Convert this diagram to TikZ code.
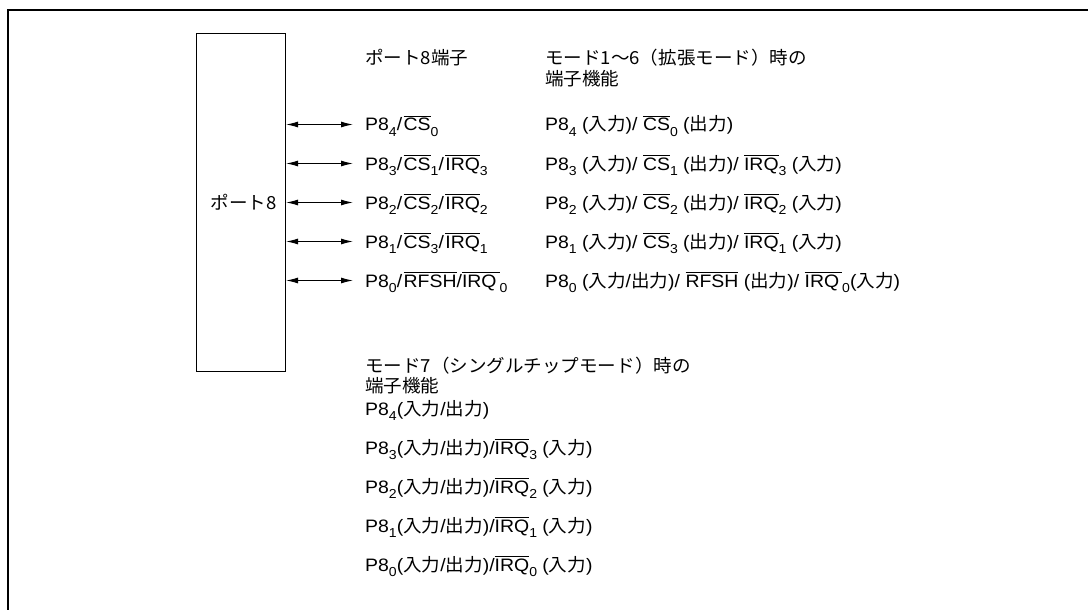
\documentclass[tikz,border=0pt]{standalone}
\usepackage{fontspec}
\setmainfont[FakeStretch=1.08]{Liberation Sans}
\newfontfamily\jpfont[FakeStretch=1.03]{Noto Sans CJK JP}
\usetikzlibrary{arrows.meta}
\newcommand\jt[1]{{\jpfont #1}}
\newcommand\sbs[1]{\raisebox{-0.32em}{\fontsize{13}{13}\selectfont #1}}
\newcommand\olb[1]{\leavevmode\vbox{\hrule height 0.9pt\kern 1.6pt\hbox{#1}}}
\newcommand\slh{/\kern1.5pt}
\tikzset{
  lbl/.style={anchor=base west, inner sep=0pt, font=\fontsize{18}{22}\selectfont},
  lble/.style={anchor=base east, inner sep=0pt, font=\fontsize{18}{22}\selectfont},
  bidir/.style={{Latex[length=12pt,width=6pt]}-{Latex[length=12pt,width=6pt]}, line width=1pt},
  frame/.style={line width=2.4pt},
  portbox/.style={draw, line width=1.1pt, inner sep=0pt, minimum width=89pt, minimum height=338pt, anchor=north west}
}
\begin{document}
\begin{tikzpicture}[x=1pt,y=1pt]
\useasboundingbox (0,0) rectangle (1088,-610);
\draw[frame] (8,-612) -- (8,-10) -- (1090,-10);
\node[portbox] (port) at (196,-33) {};
\node[lble] (portlbl) at (277,-209) {\jt{ポート8}};
% headers
\node[lbl] (h1) at (365,-65) {\jt{ポート8端子}};
\node[lbl] (h2a) at (545,-65) {\jt{モード1～6（拡張モード）時の}};
\node[lbl] (h2b) at (545,-85) {\jt{端子機能}};
% column 1
\node[lbl] (r4) at (365,-131) {P8\sbs{4}\slh\olb{CS}\sbs{0}};
\node[lbl] (r3) at (365,-170) {P8\sbs{3}\slh\olb{CS}\sbs{1}\slh\olb{IRQ}\sbs{3}};
\node[lbl] (r2) at (365,-209) {P8\sbs{2}\slh\olb{CS}\sbs{2}\slh\olb{IRQ}\sbs{2}};
\node[lbl] (r1) at (365,-248) {P8\sbs{1}\slh\olb{CS}\sbs{3}\slh\olb{IRQ}\sbs{1}};
\node[lbl] (r0) at (365,-287) {P8\sbs{0}\slh\olb{RFSH}/\olb{IRQ\,}\sbs{0}};
% column 2
\node[lbl] (f4) at (545,-131) {P8\sbs{4} (\jt{入力})/ \olb{CS}\sbs{0} (\jt{出力})};
\node[lbl] (f3) at (545,-170) {P8\sbs{3} (\jt{入力})/ \olb{CS}\sbs{1} (\jt{出力})/ \olb{IRQ}\sbs{3} (\jt{入力})};
\node[lbl] (f2) at (545,-209) {P8\sbs{2} (\jt{入力})/ \olb{CS}\sbs{2} (\jt{出力})/ \olb{IRQ}\sbs{2} (\jt{入力})};
\node[lbl] (f1) at (545,-248) {P8\sbs{1} (\jt{入力})/ \olb{CS}\sbs{3} (\jt{出力})/ \olb{IRQ}\sbs{1} (\jt{入力})};
\node[lbl] (f0) at (545,-287) {P8\sbs{0} (\jt{入力}/\jt{出力})/ \olb{RFSH} (\jt{出力})/ \olb{IRQ\,}\sbs{0}(\jt{入力})};
% bottom
\node[lbl] (m7a) at (365,-372) {\jt{モード7（シングルチップモード）時の}};
\node[lbl] (m7b) at (365,-392) {\jt{端子機能}};
\node[lbl] (s4) at (365,-415) {P8\sbs{4}(\jt{入力}/\jt{出力})};
\node[lbl] (s3) at (365,-454) {P8\sbs{3}(\jt{入力}/\jt{出力})/\olb{IRQ}\sbs{3} (\jt{入力})};
\node[lbl] (s2) at (365,-493) {P8\sbs{2}(\jt{入力}/\jt{出力})/\olb{IRQ}\sbs{2} (\jt{入力})};
\node[lbl] (s1) at (365,-532) {P8\sbs{1}(\jt{入力}/\jt{出力})/\olb{IRQ}\sbs{1} (\jt{入力})};
\node[lbl] (s0) at (365,-571) {P8\sbs{0}(\jt{入力}/\jt{出力})/\olb{IRQ}\sbs{0} (\jt{入力})};
% arrows
\foreach \r in {r4,r3,r2,r1,r0}{
  \coordinate (a\r) at ([yshift=6.5pt]\r.base west);
  \draw[bidir] (port.east |- a\r) -- ([xshift=-12pt]a\r);
}
\end{tikzpicture}
\end{document}
